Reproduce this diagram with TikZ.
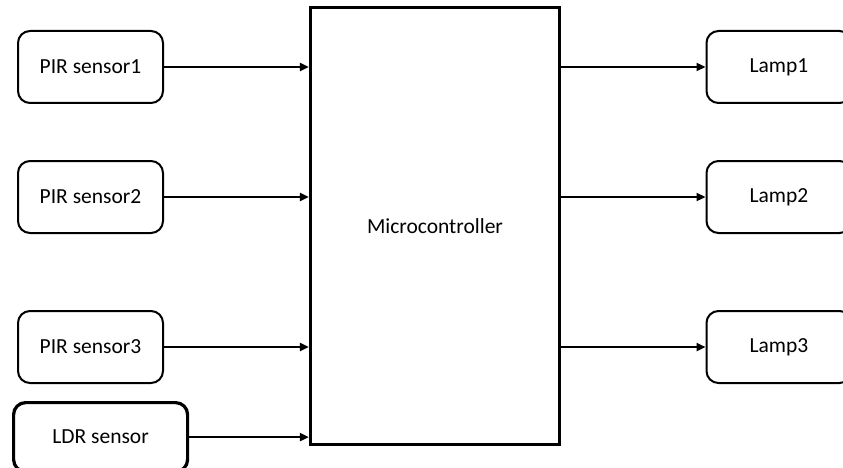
\documentclass[tikz,border=0pt]{standalone}
\usepackage{fontspec}
\setmainfont{Carlito}
\usetikzlibrary{arrows.meta, positioning}

\begin{document}
\begin{tikzpicture}[
  x=1pt, y=1pt,
  node distance=57pt and 147pt,
  io/.style={rectangle, rounded corners=12pt, draw=black, line width=2pt,
             align=center, minimum height=72pt, minimum width=145pt,
             font=\fontsize{21.5}{25}\selectfont},
  mcubox/.style={rectangle, draw=black, line width=3.4pt, align=center,
                 minimum height=437pt, minimum width=249pt,
                 font=\fontsize{21.5}{25}\selectfont},
  arrow/.style={-{Triangle[length=9pt, width=8pt]}, line width=2.6pt}
]
\useasboundingbox (0,0) rectangle (843,-468);

\node[mcubox] (mcu) at (435,-226) {Microcontroller};

% inputs
\node[io] (pir1) at (90.5,-67) {PIR sensor1};
\node[io, below=56pt of pir1] (pir2) {PIR sensor2};
\node[io, below=76pt of pir2] (pir3) {PIR sensor3};
\node[io, line width=3.2pt, minimum width=174pt, minimum height=69pt,
      below=17pt of pir3.south west, anchor=north west, xshift=-5pt] (ldr) {LDR sensor};

% outputs
\node[io] (lamp1) at (779,-67) {Lamp1};
\node[io, below=56pt of lamp1] (lamp2) {Lamp2};
\node[io, below=76pt of lamp2] (lamp3) {Lamp3};

\draw[arrow] (pir1) -- (pir1 -| mcu.west);
\draw[arrow] (pir2) -- (pir2 -| mcu.west);
\draw[arrow] (pir3) -- (pir3 -| mcu.west);
\draw[arrow] (ldr) -- (ldr -| mcu.west);
\draw[arrow] (mcu.east |- lamp1) -- (lamp1);
\draw[arrow] (mcu.east |- lamp2) -- (lamp2);
\draw[arrow] (mcu.east |- lamp3) -- (lamp3);

\end{tikzpicture}
\end{document}
